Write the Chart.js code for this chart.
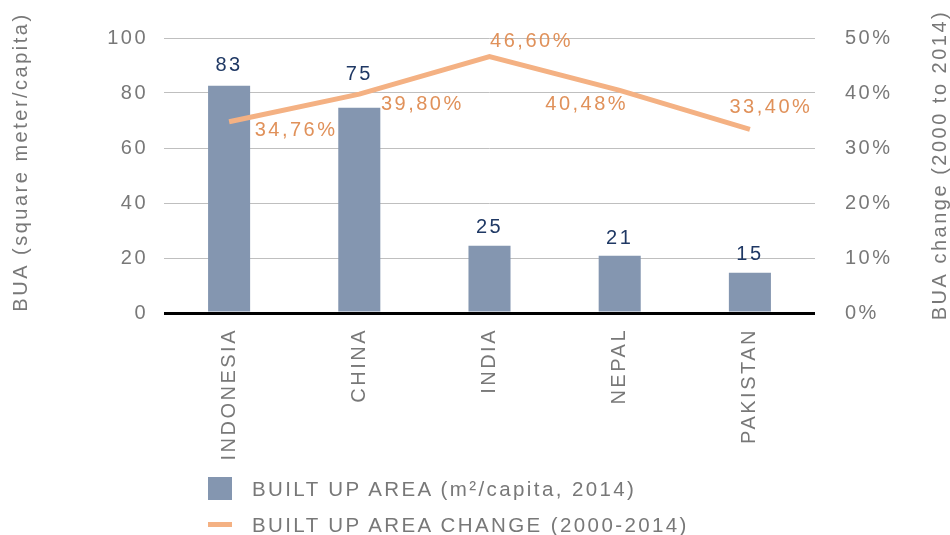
<!DOCTYPE html>
<html>
<head>
<meta charset="utf-8">
<script src="https://cdn.jsdelivr.net/npm/chart.js@4.4.1/dist/chart.umd.min.js"></script>
<style>
html,body{margin:0;padding:0;background:#fff;}
#wrap{position:relative;width:950px;height:535px;overflow:hidden;}
#c{position:absolute;left:0;top:-4px;}
.item{position:absolute;left:208px;height:36px;display:flex;align-items:center;font-family:"Liberation Sans",Arial,sans-serif;font-size:20.5px;letter-spacing:2.4px;color:#787878;white-space:nowrap;}
.sw{display:inline-block;width:24px;margin-right:20px;}
</style>
</head>
<body>
<div id="wrap">
<canvas id="c" width="950" height="539"></canvas>
<div id="legend"></div>
</div>
<script>
// ---- data ----
const countries = ["INDONESIA", "CHINA", "INDIA", "NEPAL", "PAKISTAN"];
const builtUpArea = [82.6, 74.6, 24.5, 20.8, 14.6];          // m²/capita, 2014
const builtUpChange = [34.76, 39.80, 46.60, 40.48, 33.40];   // % change 2000-2014
const leftTicks = [0, 20, 40, 60, 80, 100];
const rightTicks = [0, 10, 20, 30, 40, 50];
const seriesNames = ["BUILT UP AREA (m\u00B2/capita, 2014)", "BUILT UP AREA CHANGE (2000-2014)"];
const leftTitle = "BUA (square meter/capita)";
const rightTitle = "BUA change (2000 to 2014)";

// ---- styles / label placement ----
const BAR_COLOR = "#8496B0";
const LINE_COLOR = "#F4B183";
const LINE_LABEL_COLOR = "#E0915A";
const BAR_LABEL_COLOR = "#1F3864";
const GRAY = "#787878";
const FONT = "'Liberation Sans', Arial, sans-serif";
const SPACING = "2.5px";
const barLabelOffsets = [20, 33, 18, 17, 18];
const lineLabelOffsets = [[67, 9], [63, 10], [42, -15.5], [-33, 14], [21, -22]];

Chart.defaults.font.family = FONT;
Chart.defaults.font.size = 20;
Chart.defaults.color = GRAY;

const spacingPlugin = {
  id: 'spacing',
  beforeUpdate(c) { c.ctx.letterSpacing = SPACING; },
  beforeLayout(c) { c.ctx.letterSpacing = SPACING; },
  beforeDraw(c) { c.ctx.letterSpacing = SPACING; }
};

const labelPlugin = {
  id: 'labels',
  afterDatasetsDraw(chart) {
    const ctx = chart.ctx;
    ctx.save();
    ctx.letterSpacing = SPACING;
    ctx.font = "20px " + FONT;
    ctx.textAlign = 'center';
    ctx.textBaseline = 'middle';
    ctx.fillStyle = BAR_LABEL_COLOR;
    chart.getDatasetMeta(0).data.forEach((el, i) => {
      ctx.fillText(String(Math.round(builtUpArea[i])), el.x, el.y - barLabelOffsets[i]);
    });
    ctx.fillStyle = LINE_LABEL_COLOR;
    chart.getDatasetMeta(1).data.forEach((el, i) => {
      const [dx, dy] = lineLabelOffsets[i];
      ctx.fillText(builtUpChange[i].toFixed(2).replace('.', ',') + '%', el.x + dx, el.y + dy);
    });
    ctx.restore();
  },
  afterDraw(chart) {
    const ctx = chart.ctx;
    const a = chart.chartArea;
    ctx.save();
    ctx.letterSpacing = SPACING;
    ctx.font = "20px " + FONT;
    ctx.fillStyle = GRAY;
    ctx.textAlign = 'center';
    ctx.textBaseline = 'middle';
    ctx.save();
    ctx.translate(21, a.top + 124);
    ctx.rotate(-Math.PI / 2);
    ctx.fillText(leftTitle, 0, 0);
    ctx.restore();
    ctx.save();
    ctx.translate(940, a.top + 127);
    ctx.rotate(-Math.PI / 2);
    ctx.fillText(rightTitle, 0, 0);
    ctx.restore();
    ctx.restore();
  }
};

const chart = new Chart(document.getElementById('c'), {
  data: {
    labels: countries,
    datasets: [
      {
        type: 'bar',
        label: seriesNames[0],
        data: builtUpArea,
        backgroundColor: BAR_COLOR,
        barPercentage: 0.323,
        categoryPercentage: 1,
        yAxisID: 'y',
        order: 1
      },
      {
        type: 'line',
        label: seriesNames[1],
        data: builtUpChange,
        borderColor: LINE_COLOR,
        borderWidth: 5,
        pointRadius: 0,
        tension: 0,
        fill: false,
        yAxisID: 'y1',
        order: 0
      }
    ]
  },
  options: {
    responsive: false,
    animation: false,
    devicePixelRatio: 1,
    layout: { autoPadding: false, padding: { top: 38, left: 0, right: 0, bottom: 0 } },
    plugins: { legend: { display: false }, tooltip: { enabled: false } },
    scales: {
      x: {
        grid: { display: false, drawTicks: false },
        border: { display: false },
        ticks: { minRotation: 90, maxRotation: 90, autoSkip: false, padding: 15, color: GRAY, font: { size: 20 } },
        afterFit(s) { s.height = 222; }
      },
      y: {
        position: 'left',
        min: 0, max: 100,
        afterBuildTicks(s) { s.ticks = leftTicks.map(v => ({ value: v })); },
        grid: {
          drawTicks: false,
          color: c => c.tick && c.tick.value === 0 ? '#000000' : '#BFBFBF',
          lineWidth: c => c.tick && c.tick.value === 0 ? 3 : 1
        },
        border: { display: false },
        ticks: { padding: 16, color: GRAY, font: { size: 20 } },
        afterFit(s) { s.width = 164; }
      },
      y1: {
        position: 'right',
        min: 0, max: 50,
        afterBuildTicks(s) { s.ticks = rightTicks.map(v => ({ value: v })); },
        grid: { display: false, drawTicks: false },
        border: { display: false },
        ticks: { padding: 30, color: GRAY, font: { size: 20 }, callback: v => v + '%' },
        afterFit(s) { s.width = 135; }
      }
    }
  },
  plugins: [spacingPlugin, labelPlugin]
});

// HTML legend built from the chart's datasets
const legend = document.getElementById('legend');
const tops = [470.5, 506.5];
chart.data.datasets.forEach((ds, i) => {
  const item = document.createElement('div');
  item.className = 'item';
  item.style.top = tops[i] + 'px';
  const sw = document.createElement('span');
  sw.className = 'sw';
  if (ds.type === 'bar') { sw.style.height = '23px'; sw.style.background = ds.backgroundColor; }
  else { sw.style.height = '5px'; sw.style.background = ds.borderColor; }
  const t = document.createElement('span');
  t.textContent = ds.label;
  item.appendChild(sw);
  item.appendChild(t);
  legend.appendChild(item);
});
</script>
</body>
</html>
